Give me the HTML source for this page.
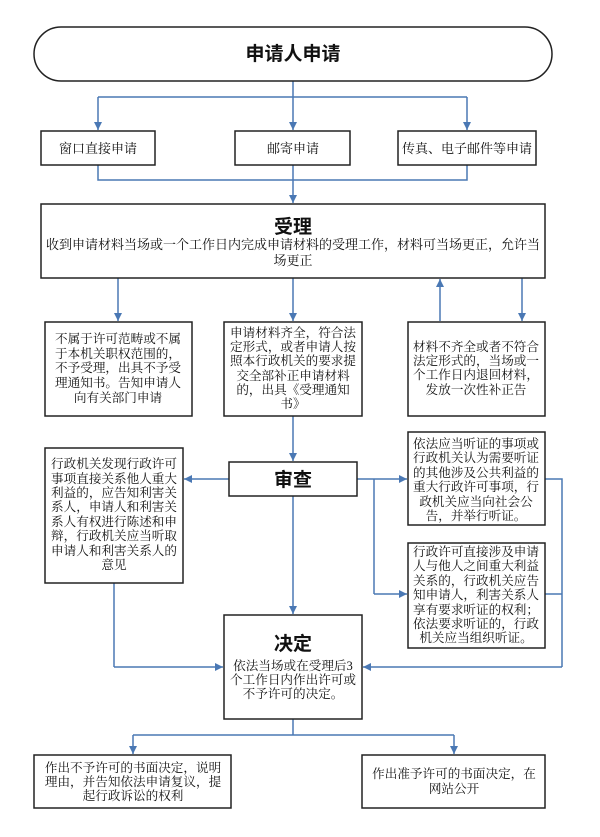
<!DOCTYPE html>
<html><head><meta charset="utf-8"><style>
html,body{margin:0;padding:0;background:#fff;}
svg{display:block;}
text{font-family:"Liberation Serif","Noto Serif CJK SC","Noto Sans CJK SC",serif;fill:#111;}
.t{font-size:13px;}
.s{font-size:12.6px;}
.b{font-family:"Liberation Sans","Noto Sans CJK SC",sans-serif;font-weight:bold;}
</style></head><body>
<svg width="600" height="837" viewBox="0 0 600 837" xmlns="http://www.w3.org/2000/svg">
<defs><marker id="a" markerWidth="10" markerHeight="10" refX="9" refY="5" orient="auto" markerUnits="userSpaceOnUse"><path d="M1,1 L9,5 L1,9 Z" fill="#4a78b4"/></marker></defs>
<g fill="none" stroke="#4a78b4" stroke-width="1.5">
<line x1="293" y1="81" x2="293" y2="130" marker-end="url(#a)"/>
<polyline points="98,97 467,97"/>
<line x1="98" y1="97" x2="98" y2="130" marker-end="url(#a)"/>
<line x1="467" y1="97" x2="467" y2="130" marker-end="url(#a)"/>
<polyline points="98,165 98,180 467,180 467,165"/>
<line x1="293" y1="165" x2="293" y2="203" marker-end="url(#a)"/>
<line x1="118" y1="278" x2="118" y2="321" marker-end="url(#a)"/>
<line x1="293" y1="278" x2="293" y2="321" marker-end="url(#a)"/>
<line x1="440" y1="321" x2="440" y2="279" marker-end="url(#a)"/>
<line x1="522" y1="278" x2="522" y2="321" marker-end="url(#a)"/>
<line x1="293" y1="416" x2="293" y2="461" marker-end="url(#a)"/>
<line x1="229" y1="479" x2="184" y2="479" marker-end="url(#a)"/>
<line x1="357" y1="479" x2="407" y2="479" marker-end="url(#a)"/>
<polyline points="374,479 374,594"/>
<line x1="374" y1="594" x2="407" y2="594" marker-end="url(#a)"/>
<polyline points="545,479 562,479 562,667"/>
<line x1="545" y1="594" x2="562" y2="594"/>
<line x1="562" y1="667" x2="363" y2="667" marker-end="url(#a)"/>
<polyline points="114,583 114,667"/>
<line x1="114" y1="667" x2="223" y2="667" marker-end="url(#a)"/>
<line x1="293" y1="496" x2="293" y2="614" marker-end="url(#a)"/>
<polyline points="293,719 293,735"/>
<polyline points="133,735 454,735"/>
<line x1="133" y1="735" x2="133" y2="754" marker-end="url(#a)"/>
<line x1="454" y1="735" x2="454" y2="754" marker-end="url(#a)"/>
</g>
<g fill="#fff" stroke="#222" stroke-width="1.5">
<rect x="34" y="27" width="518" height="54" rx="27"/>
<rect x="41" y="131" width="114" height="34"/>
<rect x="235" y="131" width="115" height="34"/>
<rect x="398" y="131" width="138" height="34"/>
<rect x="41" y="204" width="504" height="74"/>
<rect x="45" y="322" width="147" height="94"/>
<rect x="224" y="322" width="138" height="94"/>
<rect x="408" y="322" width="137" height="94"/>
<rect x="229" y="462" width="128" height="34"/>
<rect x="45" y="448" width="138" height="135"/>
<rect x="408" y="432" width="137" height="93"/>
<rect x="408" y="543" width="137" height="105"/>
<rect x="224" y="615" width="138" height="104"/>
<rect x="34" y="755" width="197" height="53"/>
<rect x="362" y="755" width="183" height="53"/>
</g>
<g text-anchor="middle">
<text x="293" y="60" class="b" font-size="19">申请人申请</text>
<text x="98" y="153" class="t">窗口直接申请</text>
<text x="293" y="153" class="t">邮寄申请</text>
<text x="467" y="153" class="t">传真、电子邮件等申请</text>
<text x="293" y="233" class="b" font-size="19">受理</text>
<text x="293" y="249" class="t">收到申请材料当场或一个工作日内完成申请材料的受理工作，材料可当场更正，允许当</text>
<text x="293" y="265" class="t">场更正</text>
<g class="s">
<text x="118" y="343">不属于许可范畴或不属</text>
<text x="118" y="358">于本机关职权范围的，</text>
<text x="118" y="372">不予受理，出具不予受</text>
<text x="118" y="387">理通知书。告知申请人</text>
<text x="118" y="402">向有关部门申请</text>
<text x="293" y="337">申请材料齐全，符合法</text>
<text x="293" y="351">定形式，或者申请人按</text>
<text x="293" y="365">照本行政机关的要求提</text>
<text x="293" y="380">交全部补正申请材料</text>
<text x="293" y="394">的，出具《受理通知</text>
<text x="293" y="408">书》</text>
<text x="476" y="351">材料不齐全或者不符合</text>
<text x="476" y="365">法定形式的，当场或一</text>
<text x="476" y="379">个工作日内退回材料，</text>
<text x="476" y="394">发放一次性补正告</text>
</g>
<text x="293" y="486" class="b" font-size="19">审查</text>
<g class="s">
<text x="114" y="468">行政机关发现行政许可</text>
<text x="114" y="483">事项直接关系他人重大</text>
<text x="114" y="497">利益的，应告知利害关</text>
<text x="114" y="511">系人，申请人和利害关</text>
<text x="114" y="526">系人有权进行陈述和申</text>
<text x="114" y="540">辩，行政机关应当听取</text>
<text x="114" y="555">申请人和利害关系人的</text>
<text x="114" y="569">意见</text>
<text x="476" y="448">依法应当听证的事项或</text>
<text x="476" y="462">行政机关认为需要听证</text>
<text x="476" y="477">的其他涉及公共利益的</text>
<text x="476" y="491">重大行政许可事项，行</text>
<text x="476" y="506">政机关应当向社会公</text>
<text x="476" y="520">告，并举行听证。</text>
<text x="476" y="556">行政许可直接涉及申请</text>
<text x="476" y="570">人与他人之间重大利益</text>
<text x="476" y="585">关系的，行政机关应告</text>
<text x="476" y="599">知申请人，利害关系人</text>
<text x="476" y="614">享有要求听证的权利；</text>
<text x="476" y="628">依法要求听证的，行政</text>
<text x="476" y="642">机关应当组织听证。</text>
</g>
<text x="293" y="650" class="b" font-size="19">决定</text>
<g class="s">
<text x="293" y="670">依法当场或在受理后3</text>
<text x="293" y="684">个工作日内作出许可或</text>
<text x="293" y="698">不予许可的决定。</text>
<text x="133" y="772">作出不予许可的书面决定，说明</text>
<text x="133" y="786">理由，并告知依法申请复议，提</text>
<text x="133" y="800">起行政诉讼的权利</text>
<text x="454" y="778">作出准予许可的书面决定，在</text>
<text x="454" y="793">网站公开</text>
</g>
</g>
</svg>
</body></html>
